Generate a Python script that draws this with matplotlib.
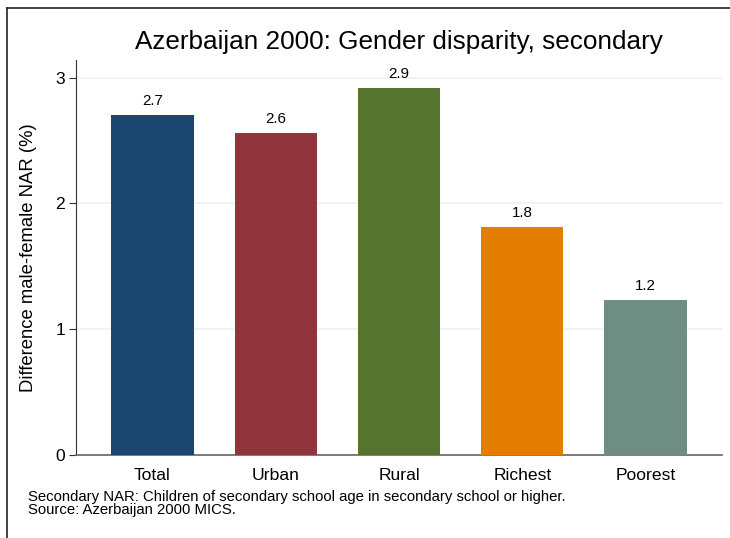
import matplotlib.pyplot as plt
from matplotlib.lines import Line2D

plt.rcParams['font.family'] = ['Liberation Sans', 'DejaVu Sans']

groups = ["Total", "Urban", "Rural", "Richest", "Poorest"]
values = [2.70, 2.56, 2.92, 1.81, 1.23]
labels = ["2.7", "2.6", "2.9", "1.8", "1.2"]
colors = ["#1a476f", "#90353b", "#55752f", "#e37e00", "#6e8e84"]

fig = plt.figure(figsize=(7.3, 5.38), dpi=100)
fig.patch.set_linewidth(0)
ax = fig.add_axes([76 / 730, 1 - 455 / 538, 646 / 730, 395 / 538])

x = range(len(groups))
bars = ax.bar(x, values, width=0.667, color=colors, zorder=3)
for b, lab in zip(bars, labels):
    ax.annotate(lab, (b.get_x() + b.get_width() / 2, b.get_height()),
                xytext=(0, 5), textcoords="offset points",
                ha="center", va="bottom", fontsize=10.9)

ax.set_xlim(-0.62, 4.62)
ax.set_ylim(0, 3.14)
ax.set_yticks([0, 1, 2, 3])
ax.set_xticks(list(x))
ax.set_xticklabels(groups, fontsize=12.6)
ax.tick_params(axis="x", length=0, pad=9.5)
ax.tick_params(axis="y", length=5, width=0.8, color="#333333", labelsize=12.6, pad=3)
ax.yaxis.grid(True, color="#eaf2f3", linewidth=1.2, zorder=0)
for s in ["top", "right"]:
    ax.spines[s].set_visible(False)
ax.spines["left"].set_color("#333333")
ax.spines["bottom"].set_color("#666666")
ax.spines["left"].set_linewidth(0.8)
ax.spines["bottom"].set_linewidth(1.2)

ax.set_ylabel("Difference male-female NAR (%)", fontsize=13.3)
ax.yaxis.set_label_coords((37.5 - 76) / 646, 0.5)
fig.text(399 / 730, 1 - 42 / 538, "Azerbaijan 2000: Gender disparity, secondary",
         ha="center", va="center", fontsize=18.8)

fig.text(28 / 730, 1 - 497 / 538,
         "Secondary NAR: Children of secondary school age in secondary school or higher.",
         ha="left", va="center", fontsize=10.7)
fig.text(28 / 730, 1 - 510 / 538, "Source: Azerbaijan 2000 MICS.",
         ha="left", va="center", fontsize=10.7)

# outer frame: only left and top edges fall inside the picture
fx, fy = 6.5 / 730, 1 - 8 / 538
for xs, ys in [([fx, fx], [-0.05, fy]), ([fx, 1.05], [fy, fy])]:
    ln = Line2D(xs, ys, transform=fig.transFigure, color="#222222", linewidth=1.2)
    fig.add_artist(ln)

fig.savefig("out.png", dpi=100)
